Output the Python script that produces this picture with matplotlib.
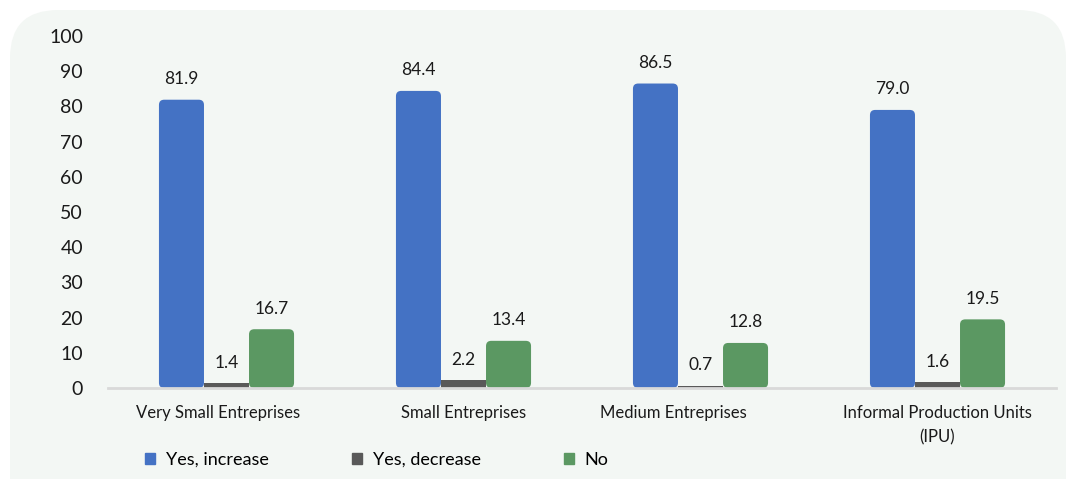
import numpy as np
import matplotlib
matplotlib.use("Agg")
import matplotlib.pyplot as plt
import matplotlib.transforms as mtransforms
from matplotlib.patches import FancyBboxPatch

categories = ["Very Small Entreprises", "Small Entreprises", "Medium Entreprises",
              "Informal Production Units\n(IPU)"]
yes_increase = [81.9, 84.4, 86.5, 79.0]
yes_decrease = [1.4, 2.2, 0.7, 1.6]
no_change = [16.7, 13.4, 12.8, 19.5]
series_names = ["Yes, increase", "Yes, decrease", "No"]
colors = ["#4472c4", "#595959", "#5b9862"]

plt.rcParams["font.family"] = ["Lato", "DejaVu Sans"]

fig = plt.figure(figsize=(10.66, 4.79), dpi=100, facecolor="white")

# soft rounded panel behind the chart
panel = FancyBboxPatch((10 / 1066, -0.2), 1 - 10 / 1066, 1.2 - 10 / 479,
                       boxstyle="round,pad=0,rounding_size=0.045",
                       mutation_aspect=1066 / 479,
                       transform=fig.transFigure, facecolor="#f3f7f4",
                       edgecolor="none", zorder=-5)
fig.patches.append(panel)

ax = fig.add_axes([108 / 1066, 91 / 479, 948 / 1066, 352 / 479])
ax.set_facecolor("none")
ax.set_zorder(1)

x = np.arange(len(categories))
w = 0.19
series = [yes_increase, yes_decrease, no_change]
for i, (vals, name, c) in enumerate(zip(series, series_names, colors)):
    bars = ax.bar(x + (i - 1) * w, vals, w, color=c, label=name, zorder=2)
    if i != 1:
        # swap plain rectangles for rounded ones
        for b in bars:
            b.set_visible(False)
            rb = FancyBboxPatch((b.get_x(), 0), b.get_width(), b.get_height(),
                                boxstyle="round,pad=0,rounding_size=0.022",
                                mutation_aspect=67, facecolor=c, edgecolor="none",
                                zorder=2)
            ax.add_patch(rb)
    for xi, v in zip(x + (i - 1) * w, vals):
        ax.annotate(f"{v:.1f}", (xi, v), xytext=(0, 9), textcoords="offset points",
                    ha="center", va="bottom", fontsize=12.5, color="#1a1a1a")

ax.set_xlim(-0.5, len(categories) - 0.5)
ax.set_ylim(0, 100)
ax.set_yticks(range(0, 101, 10))
ax.set_xticks(x)
ax.set_xticklabels(categories, fontsize=12, color="#1a1a1a", linespacing=1.65)
ax.tick_params(axis="y", length=0, pad=18, labelsize=14, labelcolor="#1a1a1a")
ax.tick_params(axis="x", length=0, pad=12)
for s in ["top", "right", "left"]:
    ax.spines[s].set_visible(False)
ax.spines["bottom"].set_color("#d9d9d9")
ax.spines["bottom"].set_linewidth(2)
ax.spines["bottom"].set_zorder(3)

# nudge a couple of category labels to the left
label_shift = [-8, 0, -27, 0]
for lab, dx in zip(ax.get_xticklabels(), label_shift):
    lab.set_transform(lab.get_transform() +
                      mtransforms.ScaledTranslation(dx / 100, 0, fig.dpi_scale_trans))

leg = fig.legend(handles=[plt.Rectangle((0, 0), 1, 1, color=c) for c in colors],
                 labels=series_names, loc="center left",
                 bbox_to_anchor=(129 / 1066, 19 / 479), ncol=3, frameon=False,
                 fontsize=13, handlelength=0.55, handleheight=0.55,
                 handletextpad=0.6, columnspacing=4.6)

fig.savefig("out.png", dpi=100, facecolor="white")
